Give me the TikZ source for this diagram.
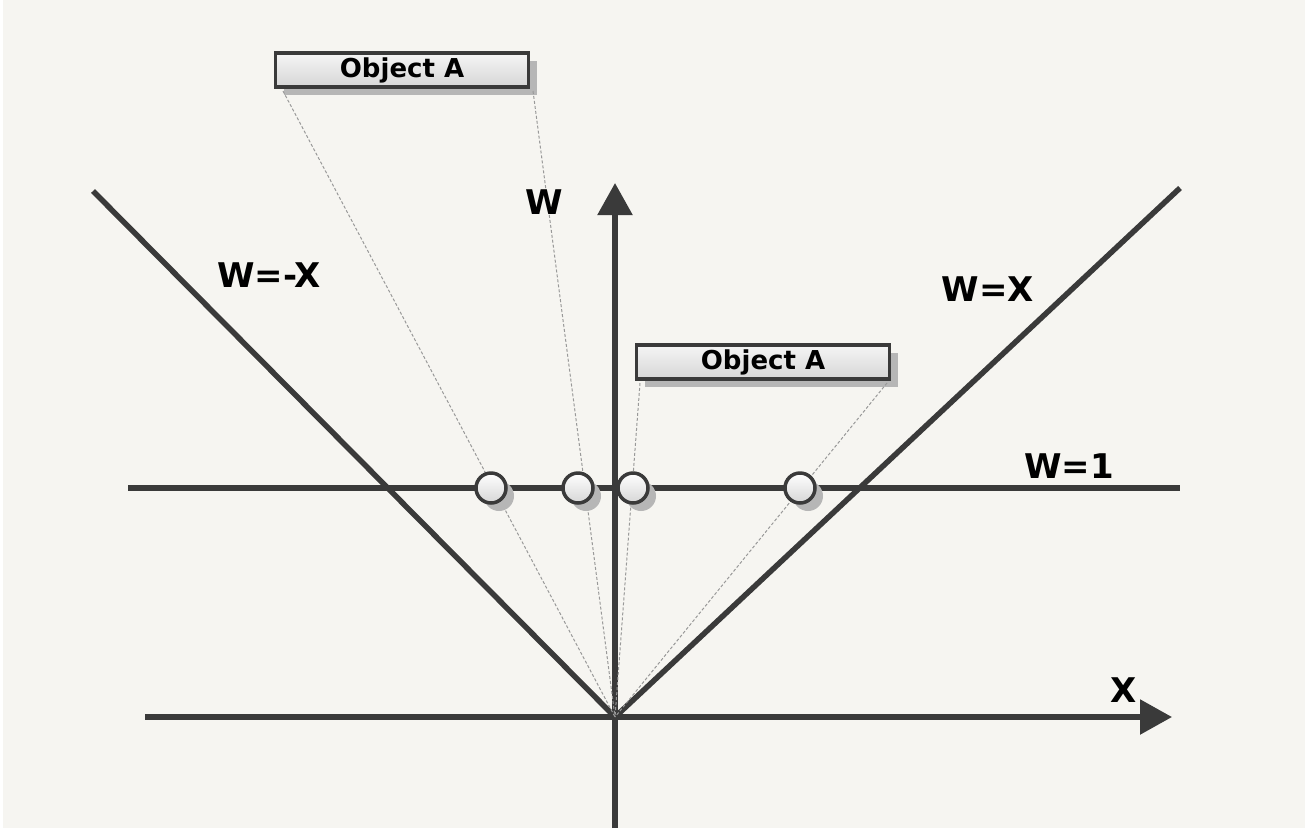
\documentclass[tikz,border=0pt]{standalone}
\usepackage{fontspec}
\setmainfont{DejaVu Sans}
\usetikzlibrary{arrows.meta,shadows}

\definecolor{paper}{HTML}{F6F5F1}
\definecolor{ink}{HTML}{3A3A3A}
\definecolor{shade}{HTML}{B6B6B6}

\tikzset{
  axis/.style={ink,line width=5.5pt,-{Triangle[length=32pt,width=34pt]}},
  wline/.style={ink,line width=5.5pt},
  proj/.style={black!40,line width=1pt,dash pattern=on 3pt off 2pt},
  pt/.style={circle,minimum size=30pt,inner sep=0pt,draw=ink,line width=3.5pt,
    top color=white,bottom color=black!16,
    drop shadow={shadow xshift=8pt,shadow yshift=-8pt,fill=shade,opacity=1}},
  objbox/.style={draw=ink,line width=3.5pt,minimum width=253pt,minimum height=34pt,
    inner sep=0pt,top color=white!96!black,bottom color=black!16,
    font=\bfseries\fontsize{26}{26}\selectfont,
    drop shadow={shadow xshift=8pt,shadow yshift=-8pt,fill=shade,opacity=1}},
  lbl/.style={font=\bfseries\fontsize{34}{34}\selectfont}
}

\begin{document}
\begin{tikzpicture}[x=1pt,y=-1pt]
\useasboundingbox (0,0) rectangle (1305,828);
\fill[paper] (0,0) rectangle (1305,828);
\fill[white] (0,0) rectangle (3,828);

% axes
\coordinate (O) at (615,717);
\coordinate (xl) at (145,717);
\coordinate (xr) at (1172,717);
\coordinate (wb) at (615,828);
\coordinate (wt) at (615,183);
\draw[axis] (xl) -- (xr);
\draw[axis] (wb) -- (wt);

% the lines w=x, w=-x and w=1
\coordinate (posend) at (1180,188);
\coordinate (negend) at (93,191);
\coordinate (onel) at (128,488);
\coordinate (oner) at (1180,488);
\draw[wline] (O) -- (posend);
\draw[wline] (O) -- (negend);
\draw[wline] (onel) -- (oner);

% the two boxes
\node[objbox] (objtop) at (402,70) {Object A};
\node[objbox] (objmid) at (763,362) {Object A};

% projections back to the origin
\coordinate (ta) at (283,91);
\coordinate (tb) at (533,91);
\coordinate (ma) at (640,383);
\coordinate (mb) at (887,383);
\draw[proj] (ta) -- (O);
\draw[proj] (tb) -- (O);
\draw[proj] (ma) -- (O);
\draw[proj] (mb) -- (O);

% points on w=1
\node[pt] (p1) at (491,488) {};
\node[pt] (p2) at (578,488) {};
\node[pt] (p3) at (633,488) {};
\node[pt] (p4) at (800,488) {};

% labels
\node[lbl] (lw) at (544,202) {W};
\node[lbl] (lneg) at (269,275) {W=-X};
\node[lbl] (lpos) at (988,289) {W=X};
\node[lbl] (lone) at (1069,466) {W=1};
\node[lbl] (lx) at (1124,690) {X};
\end{tikzpicture}
\end{document}
